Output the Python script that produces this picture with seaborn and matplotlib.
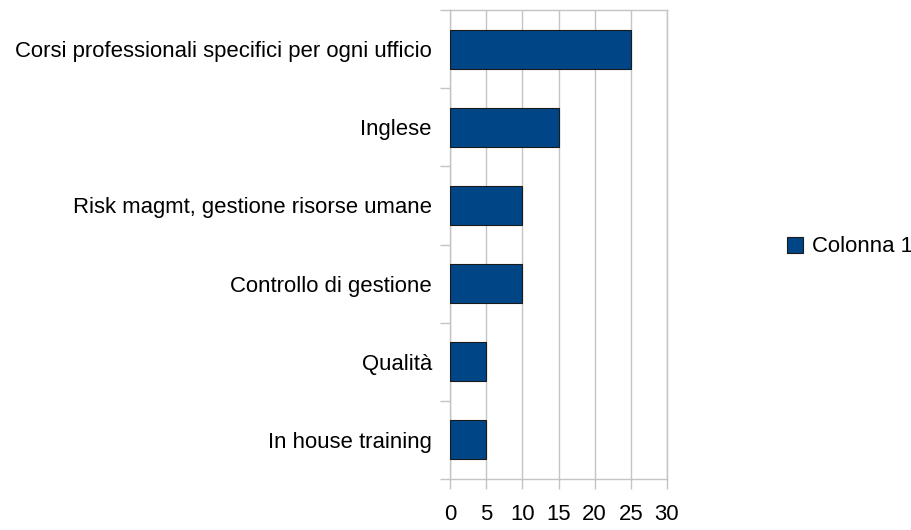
import matplotlib
matplotlib.use("Agg")
import matplotlib.pyplot as plt
import seaborn as sns
import pandas as pd
from matplotlib.patches import Patch

categories = [
    "Corsi professionali specifici per ogni ufficio",
    "Inglese",
    "Risk magmt, gestione risorse umane",
    "Controllo di gestione",
    "Qualità",
    "In house training",
]
values = [25, 15, 10, 10, 5, 5]
series_name = "Colonna 1"
x_ticks = [0, 5, 10, 15, 20, 25, 30]

sns.set_theme(style="white")
plt.rcParams["font.family"] = ["Liberation Sans", "DejaVu Sans"]
plt.rcParams["text.color"] = "#000000"

df = pd.DataFrame({"cat": categories, "val": values})

fig = plt.figure(figsize=(9.11, 5.30), dpi=100)
ax = fig.add_axes([450 / 911, 1 - 479 / 530, (667 - 450) / 911, (479 - 10) / 530])

bar_color = "#004586"
fs = 15.9
sns.barplot(data=df, x="val", y="cat", orient="h", color=bar_color, width=0.5,
            edgecolor="#1a1a1a", linewidth=0.8, saturation=1, ax=ax, zorder=3)

grid_c = "#c4c4c4"
ax.set_xlim(0, 30)
ax.set_ylim(len(categories) - 0.5, -0.5)
ax.set_xticks(x_ticks)
ax.set_xticklabels([str(t) for t in x_ticks])
ax.xaxis.grid(True, color=grid_c, linewidth=1)
ax.yaxis.grid(False)
ax.set_axisbelow(True)
ax.set_xlabel("")
ax.set_ylabel("")

for s in ax.spines.values():
    s.set_color(grid_c)
    s.set_linewidth(1)

# category boundary ticks on y axis
ax.set_yticks([i - 0.5 for i in range(len(categories) + 1)], minor=True)
ax.tick_params(axis="y", which="minor", length=7.2, color=grid_c, width=1, left=True)
ax.tick_params(axis="y", which="major", length=0, pad=13, labelsize=fs, colors="#000000")
ax.tick_params(axis="x", which="major", length=7.2, color=grid_c, width=1, bottom=True,
               pad=11, labelsize=fs, labelcolor="#000000")

handle = Patch(facecolor=bar_color, edgecolor="#1a1a1a", linewidth=0.8)
leg = fig.legend([handle], [series_name], loc="center left",
                 bbox_to_anchor=(787 / 911, 1 - 247 / 530), frameon=False,
                 fontsize=fs, handlelength=0.73, handleheight=0.73, handletextpad=0.4,
                 borderaxespad=0, borderpad=0)
for t in leg.get_texts():
    t.set_color("#000000")

fig.savefig("out.png", dpi=100)
